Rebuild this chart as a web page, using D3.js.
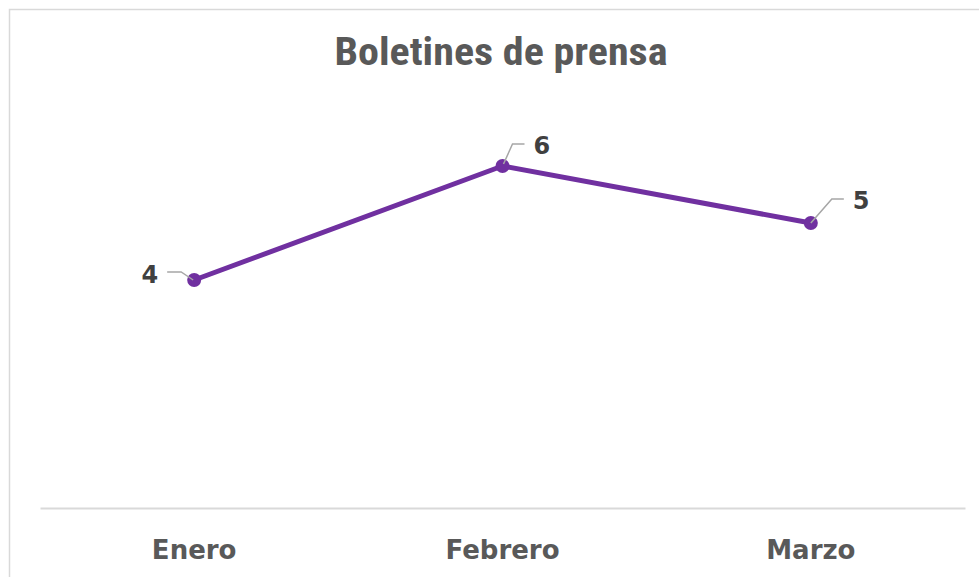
<!DOCTYPE html>
<html><head><meta charset="utf-8">
<script src="https://cdn.jsdelivr.net/npm/d3@7"></script>
<style>body{margin:0;background:#fff}svg{display:block}</style>
</head><body>
<script>
const categories = ["Enero", "Febrero", "Marzo"];
const values = [4, 6, 5];
const title = "Boletines de prensa";

const W = 979, H = 577;
const svg = d3.select("body").append("svg").attr("width", W).attr("height", H);
svg.append("rect").attr("x", 9.5).attr("y", 9.5).attr("width", W + 10).attr("height", H + 10)
  .attr("fill", "#fff").attr("stroke", "#d9d9d9").attr("stroke-width", 1.5);

const x = d3.scaleBand().domain(categories).range([40, 965]);
const y = d3.scaleLinear().domain([0, 7]).range([508, 109]);

svg.append("text").attr("x", 501).attr("y", 65).attr("text-anchor", "middle")
  .attr("font-family", "'Roboto Condensed', 'Liberation Sans Narrow', sans-serif")
  .attr("font-weight", "bold").attr("font-size", 38).attr("fill", "#595959")
  .attr("textLength", 333).attr("lengthAdjust", "spacingAndGlyphs").text(title);

const xAxis = svg.append("g").attr("transform", `translate(0,${y(0)})`)
  .call(d3.axisBottom(x).tickSize(0).tickPadding(0));
xAxis.select(".domain").attr("stroke", "#d9d9d9").attr("stroke-width", 2);
xAxis.selectAll(".tick text").attr("dy", 0).attr("y", 51)
  .attr("font-family", "'DejaVu Sans', sans-serif").attr("font-weight", "bold")
  .attr("font-size", 26).attr("fill", "#595959");

const cx = d => x(d) + x.bandwidth() / 2;
const line = d3.line().x((d, i) => cx(categories[i])).y(d => y(d));
svg.append("path").datum(values).attr("d", line).attr("fill", "none")
  .attr("stroke", "#7030a0").attr("stroke-width", 5).attr("stroke-linejoin", "round");

svg.selectAll("circle.pt").data(values).join("circle").attr("class", "pt")
  .attr("cx", (d, i) => cx(categories[i])).attr("cy", d => y(d)).attr("r", 7).attr("fill", "#7030a0");

// data labels with leader lines (offsets relative to point)
const labelOffsets = [
  {lx: -36, ly: 3, anchor: "end", path: [[-1, 0], [-13, -8], [-27, -8]]},
  {lx: 31, ly: -12, anchor: "start", path: [[1, -2], [10, -22], [22, -22]]},
  {lx: 42, ly: -14, anchor: "start", path: [[0, 0], [21, -24], [33, -24]]}
];
values.forEach((v, i) => {
  const px = cx(categories[i]), py = y(v), o = labelOffsets[i];
  svg.append("path").attr("d", d3.line()(o.path.map(p => [px + p[0], py + p[1]])))
    .attr("fill", "none").attr("stroke", "#a6a6a6").attr("stroke-width", 1.5);
  svg.append("text").attr("x", px + o.lx).attr("y", py + o.ly).attr("text-anchor", o.anchor)
    .attr("font-family", "'DejaVu Sans', sans-serif").attr("font-weight", "bold")
    .attr("font-size", 24).attr("fill", "#404040").text(v);
});
</script>
</body></html>
